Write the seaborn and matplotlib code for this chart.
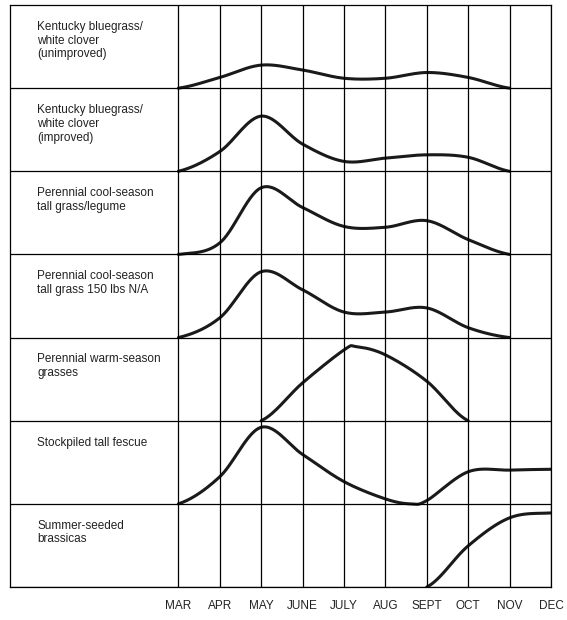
import numpy as np
import pandas as pd
import matplotlib
matplotlib.use("Agg")
import matplotlib.pyplot as plt
import seaborn as sns

months = ["MAR", "APR", "MAY", "JUNE", "JULY", "AUG", "SEPT", "OCT", "NOV", "DEC"]
labels = [
    "Kentucky bluegrass/\nwhite clover\n(unimproved)",
    "Kentucky bluegrass/\nwhite clover\n(improved)",
    "Perennial cool-season\ntall grass/legume",
    "Perennial cool-season\ntall grass 150 lbs N/A",
    "Perennial warm-season\ngrasses",
    "Stockpiled tall fescue",
    "Summer-seeded\nbrassicas",
]
# month index positions and relative yield (0-1 within row)
x_kbw_unimp = [0, 1, 2, 3, 4, 5, 6, 7, 8]
y_kbw_unimp = [0, 0.13, 0.28, 0.22, 0.12, 0.12, 0.19, 0.13, 0]
x_kbw_imp = [0, 1, 2, 3, 4, 5, 6, 7, 8]
y_kbw_imp = [0, 0.24, 0.67, 0.33, 0.12, 0.16, 0.2, 0.17, 0]
x_cool_leg = [0, 1, 2, 3, 4, 5, 6, 7, 8]
y_cool_leg = [0, 0.14, 0.81, 0.57, 0.34, 0.33, 0.41, 0.18, 0]
x_cool_n = [0, 1, 2, 3, 4, 5, 6, 7, 8]
y_cool_n = [0, 0.24, 0.8, 0.58, 0.31, 0.31, 0.36, 0.12, 0]
x_warm = [2, 3, 4, 4.3, 5, 6, 7]
y_warm = [0, 0.46, 0.86, 0.9, 0.8, 0.48, 0]
x_stock = [0, 1, 2, 3, 4, 5, 5.6, 6, 7, 8, 9]
y_stock = [0, 0.33, 0.93, 0.6, 0.27, 0.06, 0.0, 0.04, 0.39, 0.41, 0.42]
x_bras = [6, 7, 8, 9]
y_bras = [0, 0.5, 0.84, 0.9]

series = [(x_kbw_unimp, y_kbw_unimp), (x_kbw_imp, y_kbw_imp), (x_cool_leg, y_cool_leg),
          (x_cool_n, y_cool_n), (x_warm, y_warm), (x_stock, y_stock), (x_bras, y_bras)]


def smooth(x, y, n=30):
    x = np.asarray(x, float); y = np.asarray(y, float)
    px = np.concatenate([[2 * x[0] - x[1]], x, [2 * x[-1] - x[-2]]])
    py = np.concatenate([[y[0]], y, [y[-1]]])
    ox, oy = [], []
    for i in range(1, len(px) - 2):
        t = np.linspace(0, 1, n, endpoint=False)
        for arr, out in ((px, ox), (py, oy)):
            p0, p1, p2, p3 = arr[i - 1], arr[i], arr[i + 1], arr[i + 2]
            out.extend(0.5 * (2 * p1 + (-p0 + p2) * t + (2 * p0 - 5 * p1 + 4 * p2 - p3) * t ** 2
                              + (-p0 + 3 * p1 - 3 * p2 + p3) * t ** 3))
    ox.append(x[-1]); oy.append(y[-1])
    return np.array(ox), np.array(oy)


sns.set_theme(style="white")
plt.rcParams['font.family'] = ['Liberation Sans', 'DejaVu Sans']
fig = plt.figure(figsize=(5.67, 6.2), dpi=100)
ax = fig.add_axes([10 / 567, 33 / 620, 541 / 567, 582 / 620])
nrows = len(labels)
left = -168 / 41.3
ax.set_xlim(left, 9)
ax.set_ylim(0, nrows)

for i, (x, y) in enumerate(series):
    base = nrows - 1 - i
    sx, sy = smooth(x, y)
    df = pd.DataFrame({"x": sx, "y": base + sy * 0.99})
    sns.lineplot(data=df, x="x", y="y", ax=ax, color="#1a1a1a", lw=2.2, sort=False)
    ax.text(left + 27 / 41.3, base + 1 - 0.19, labels[i], fontsize=8.5, va="top", ha="left",
            color="#222", linespacing=1.2)
    ax.axhline(base, color="black", lw=0.9)

for m in range(10):
    ax.axvline(m, color="black", lw=0.9)
    ax.text(m, -0.23, months[m], ha="center", va="center", fontsize=8.5, color="#222")

for s in ax.spines.values():
    s.set_color("black"); s.set_linewidth(0.9)
ax.set_xticks([]); ax.set_yticks([])
ax.set_xlabel(""); ax.set_ylabel("")
fig.savefig("out.png", dpi=100)
